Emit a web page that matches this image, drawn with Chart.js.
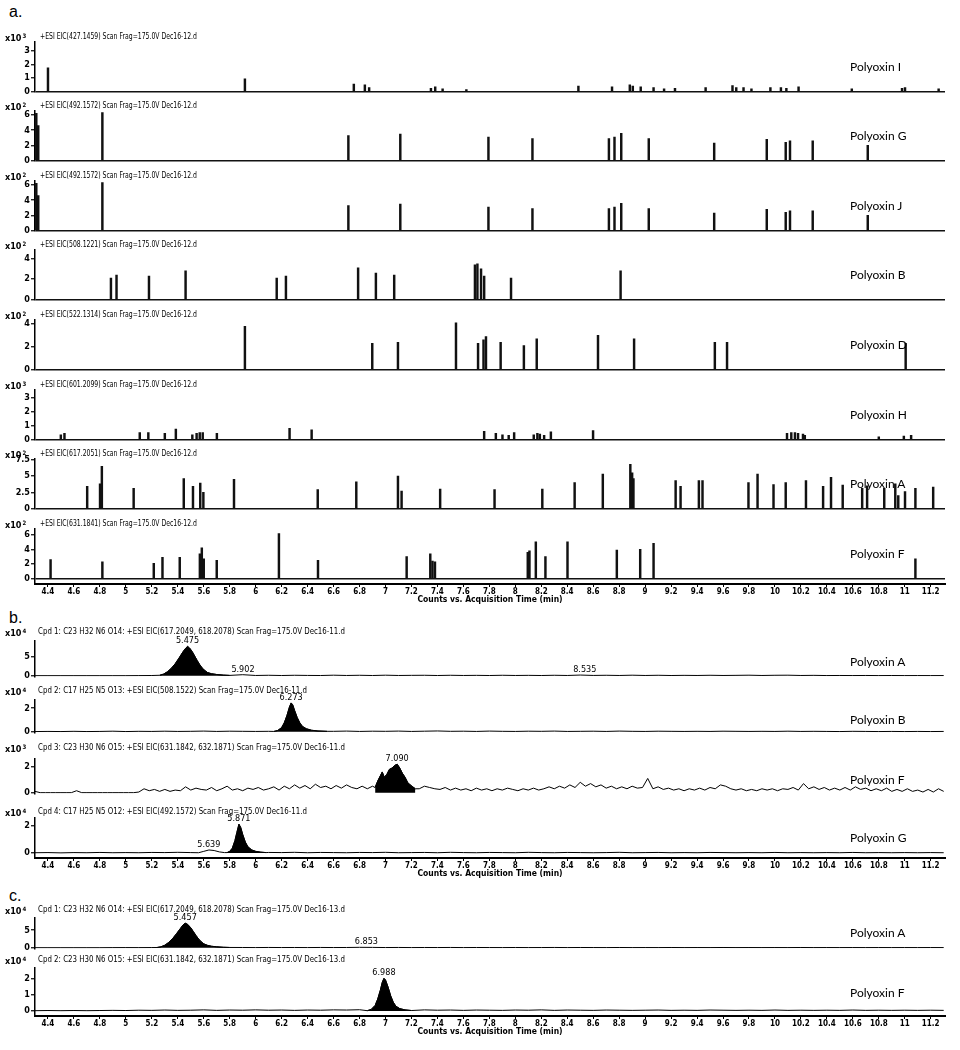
<!DOCTYPE html>
<html>
<head>
<meta charset="utf-8">
<script src="https://cdn.jsdelivr.net/npm/chart.js"></script>
<style>
  html, body { margin: 0; padding: 0; background: #fff; }
  body { position: relative; width: 960px; height: 1050px; overflow: hidden; }
  canvas { position: absolute; left: 0; }
  .txt { position: absolute; white-space: nowrap; color: #000; }
  .exp { font: bold 9px 'Liberation Sans Narrow', 'Arial Narrow', 'DejaVu Sans Condensed', sans-serif; line-height: 12px; }
  .exp sup { font-size: 6px; vertical-align: 3px; margin-left: 1px; }
  .hdr { font: 9px 'Liberation Sans Narrow', 'Arial Narrow', 'DejaVu Sans Condensed', sans-serif; line-height: 12px; transform-origin: 0 50%; }
  .name { font: 12px Lato, 'Open Sans', sans-serif; line-height: 14px; }
  .panel { font: 16px 'Liberation Sans', Arial, sans-serif; line-height: 18px; }
</style>
</head>
<body>
<script>
Chart.defaults.animation = false;
Chart.defaults.color = '#000';
const narrow = "'Liberation Sans Narrow', 'Arial Narrow', 'DejaVu Sans Condensed', sans-serif";

// acquisition time axis (min)
const xMin = 4.3, xMax = 11.31;
const timeTicks = [4.4, 4.6, 4.8, 5, 5.2, 5.4, 5.6, 5.8, 6, 6.2, 6.4, 6.6, 6.8, 7, 7.2, 7.4, 7.6, 7.8,
  8, 8.2, 8.4, 8.6, 8.8, 9, 9.2, 9.4, 9.6, 9.8, 10, 10.2, 10.4, 10.6, 10.8, 11, 11.2];

// ---- a. EIC peaks: retention time (min) / height ----
const rtI = [4.40, 5.917, 6.756, 6.841, 6.874, 7.350, 7.383, 7.440, 7.623, 8.486, 8.745, 8.882, 8.905, 8.966, 9.065,
  9.146, 9.230, 9.466, 9.673, 9.702, 9.758, 9.819, 9.965, 10.046, 10.088, 10.182, 10.592, 10.979, 11.002, 11.261];
const hI = [1.75, 0.95, 0.55, 0.5, 0.3, 0.25, 0.35, 0.2, 0.15, 0.4, 0.35, 0.5, 0.4, 0.35, 0.3,
  0.2, 0.25, 0.3, 0.45, 0.3, 0.3, 0.2, 0.3, 0.3, 0.25, 0.35, 0.2, 0.25, 0.3, 0.2];

const rtG = [4.31, 4.325, 4.819, 6.714, 7.114, 7.793, 8.132, 8.721, 8.764, 8.816, 9.028, 9.532, 9.937, 10.083, 10.116, 10.291, 10.715];
const hG = [6.2, 4.6, 6.3, 3.3, 3.5, 3.1, 2.9, 2.9, 3.1, 3.6, 2.9, 2.3, 2.8, 2.4, 2.6, 2.6, 2.0];

const rtJ = [4.31, 4.325, 4.819, 6.714, 7.114, 7.793, 8.132, 8.721, 8.764, 8.816, 9.028, 9.532, 9.937, 10.083, 10.116, 10.291, 10.715];
const hJ = [6.2, 4.6, 6.3, 3.3, 3.5, 3.1, 2.9, 2.9, 3.1, 3.6, 2.9, 2.3, 2.8, 2.4, 2.6, 2.6, 2.0];

const rtB = [4.885, 4.928, 5.178, 5.46, 6.162, 6.233, 6.789, 6.926, 7.067, 7.689, 7.708, 7.736, 7.76, 7.967, 8.811];
const hB = [2.1, 2.4, 2.3, 2.8, 2.1, 2.3, 3.1, 2.6, 2.4, 3.4, 3.5, 3.0, 2.3, 2.1, 2.8];

const rtD = [5.917, 6.898, 7.096, 7.543, 7.713, 7.755, 7.774, 7.887, 8.066, 8.165, 8.637, 8.915, 9.537, 9.631, 11.007];
const hD = [3.8, 2.3, 2.4, 4.1, 2.3, 2.6, 2.9, 2.4, 2.1, 2.7, 3.0, 2.7, 2.4, 2.4, 2.3];

const rtH = [4.499, 4.527, 5.107, 5.173, 5.3, 5.385, 5.512, 5.545, 5.569, 5.592, 5.701, 6.261, 6.431, 7.76, 7.85, 7.901, 7.949,
  7.991, 8.142, 8.17, 8.189, 8.222, 8.274, 8.599, 10.093, 10.126, 10.154, 10.178, 10.216, 10.23, 10.8, 10.993, 11.049];
const hH = [0.35, 0.45, 0.5, 0.5, 0.45, 0.75, 0.35, 0.45, 0.5, 0.5, 0.45, 0.8, 0.7, 0.6, 0.45, 0.35, 0.3,
  0.5, 0.35, 0.45, 0.4, 0.3, 0.55, 0.65, 0.45, 0.5, 0.5, 0.45, 0.4, 0.3, 0.2, 0.25, 0.3];

const rtA = [4.702, 4.801, 4.815, 5.06, 5.446, 5.517, 5.573, 5.597, 5.833, 6.478, 6.775, 7.096, 7.124, 7.421, 7.84, 8.208,
  8.457, 8.674, 8.886, 8.9, 8.91, 9.235, 9.273, 9.414, 9.442, 9.796, 9.866, 9.989, 10.083, 10.239, 10.371, 10.432,
  10.522, 10.672, 10.71, 10.842, 10.927, 10.95, 11.002, 11.082, 11.219];
const hA = [3.4, 3.8, 6.5, 3.1, 4.6, 3.4, 3.9, 2.5, 4.5, 2.9, 4.1, 5.0, 2.7, 3.0, 2.9, 3.0,
  4.0, 5.3, 6.8, 5.5, 4.6, 4.3, 3.4, 4.3, 4.3, 4.0, 5.3, 3.7, 4.0, 4.3, 3.4, 4.8,
  3.6, 3.1, 3.5, 3.1, 3.8, 2.0, 2.6, 3.1, 3.3];

const rtF = [4.42, 4.819, 5.215, 5.282, 5.415, 5.57, 5.585, 5.60, 5.70, 6.179, 6.48, 7.163, 7.345, 7.362, 7.381,
  8.096, 8.109, 8.158, 8.232, 8.402, 8.782, 8.962, 9.065, 11.082];
const hF = [2.6, 2.3, 2.1, 2.9, 2.9, 3.4, 4.2, 2.7, 2.5, 6.1, 2.5, 3.0, 3.4, 2.4, 2.3,
  3.6, 3.8, 5.0, 3.0, 5.0, 3.9, 4.0, 4.8, 2.7];

// ---- b./c. compound chromatograms ----
// baseline noise sampled from 4.3 min at a fixed step, peak profiles as (time, height)
const b1Noise = [0, 0, 0, 0, 0, 0, 0, 0, 0.02, 0.04, 0, 0, 0, 0, 0, 0, 0.25, 0.05, 0.1, 0.04,
  0.1, 0.06, 0.04, 0.12, 0.05, 0.1, 0.04, 0.12, 0.05, 0.08, 0.1, 0.04, 0.1, 0.05, 0.08, 0.04, 0.1, 0.05, 0.08, 0.04,
  0.1, 0.05, 0.16, 0.06, 0.1, 0.05, 0.12, 0.05, 0.1, 0.04, 0.08, 0.05, 0.1, 0.05, 0.08, 0.12, 0.05, 0.1, 0.12, 0.05,
  0.08, 0.03, 0.05, 0.03, 0.05, 0.02, 0.04, 0.02, 0.03, 0.02, 0.03];
const b1PeakRt = [5.26, 5.29, 5.32, 5.35, 5.38, 5.41, 5.44, 5.46, 5.475, 5.49, 5.51, 5.53, 5.55, 5.57, 5.59, 5.61, 5.63, 5.66, 5.70, 5.75, 5.80];
const b1PeakH = [0.1, 0.4, 1.0, 1.9, 3.1, 4.6, 6.2, 7.1, 7.6, 7.2, 6.3, 5.1, 3.9, 2.8, 1.9, 1.3, 0.8, 0.5, 0.3, 0.15, 0.07];
const b1LabelRt = [5.475, 5.902, 8.535];
const b1LabelH = [7.6, 0.25, 0.16];

const b2Noise = [0.01, 0.02, 0.01, 0.03, 0.01, 0.02, 0.04, 0.01, 0.03, 0.02, 0.04, 0.02, 0.03, 0.05, 0.02, 0.04, 0.03, 0.02, 0.03, 0.05,
  0, 0, 0, 0.03, 0.05, 0.02, 0.04, 0.03, 0.05, 0.02, 0.04, 0.06, 0.03, 0.04, 0.02, 0.05, 0.03, 0.02, 0.04, 0.03,
  0.05, 0.02, 0.03, 0.04, 0.02, 0.05, 0.03, 0.02, 0.04, 0.03, 0.02, 0.03, 0.02, 0.04, 0.03, 0.02, 0.03, 0.02, 0.04, 0.02,
  0.03, 0.02, 0.01, 0.03, 0.02, 0.01, 0.02, 0.01, 0.02, 0.01, 0.02];
const b2PeakRt = [6.14, 6.17, 6.20, 6.22, 6.24, 6.26, 6.273, 6.285, 6.30, 6.32, 6.34, 6.36, 6.39, 6.43, 6.48, 6.55];
const b2PeakH = [0.02, 0.1, 0.35, 0.75, 1.35, 2.1, 2.45, 2.3, 1.8, 1.2, 0.75, 0.45, 0.25, 0.12, 0.06, 0.03];
const b2LabelRt = [6.273];
const b2LabelH = [2.45];

const b3Noise = [0.1, 0, 0, 0, 0, 0, 0, 0, 0.15, 0,
  0, 0, 0, 0, 0, 0, 0, 0, 0, 0,
  0.05, 0.3, 0.15, 0.25, 0.1, 0.25, 0.1, 0.2, 0.15, 0.45,
  0.2, 0.35, 0.25, 0.2, 0.4, 0.15, 0.3, 0.5, 0.2, 0.3,
  0.15, 0.35, 0.25, 0.4, 0.2, 0.3, 0.45, 0.2, 0.5, 0.3,
  0.6, 0.35, 0.55, 0.3, 0.65, 0.4, 0.5, 0.3, 0.55, 0.35,
  0.6, 0.4, 0.3, 0.5, 0.3, 0.5, 0, 0, 0, 0,
  0, 0, 0, 0, 0.3, 0.5, 0.4, 0.3, 0.25, 0.4,
  0.2, 0.35, 0.2, 0.3, 0.15, 0.35, 0.2, 0.3, 0.15, 0.3,
  0.2, 0.35, 0.25, 0.15, 0.3, 0.2, 0.35, 0.2, 0.3, 0.45,
  0.3, 0.5, 0.35, 0.6, 0.4, 0.8, 0.5, 0.7, 0.45, 0.6,
  0.35, 0.5, 0.3, 0.45, 0.3, 0.5, 0.35, 0.4, 1.1, 0.3,
  0.45, 0.25, 0.35, 0.2, 0.3, 0.15, 0.3, 0.2, 0.35, 0.2,
  0.4, 0.3, 0.6, 0.5, 0.3, 0.2, 0.3, 0.15, 0.25, 0.15,
  0.3, 0.2, 0.3, 0.15, 0.3, 0.25, 0.4, 0.2, 0.7, 0.3,
  0.45, 0.25, 0.4, 0.2, 0.35, 0.2, 0.4, 0.2, 0.45, 0.25,
  0.35, 0.15, 0.3, 0.15, 0.35, 0.1, 0.25, 0.1, 0.3, 0.1,
  0.2, 0.05, 0.25, 0.05, 0.3, 0.1];
const b3PeakRt = [6.92, 6.94, 6.96, 6.975, 6.99, 7.01, 7.03, 7.05, 7.07, 7.09, 7.11, 7.13, 7.15, 7.17, 7.19, 7.21, 7.23];
const b3PeakH = [0.4, 0.9, 1.3, 1.6, 1.2, 1.4, 1.8, 1.9, 2.1, 2.2, 1.9, 1.5, 1.2, 0.8, 0.6, 0.45, 0.3];
const b3LabelRt = [7.09];
const b3LabelH = [2.2];

const b4Noise = [0.02, 0.03, 0.01, 0.03, 0.02, 0.04, 0.02, 0.03, 0.02, 0.04, 0.03, 0.05, 0.03, 0, 0, 0, 0, 0, 0.04, 0.03,
  0.05, 0.02, 0.04, 0.03, 0.02, 0.04, 0.03, 0.05, 0.02, 0.03, 0.04, 0.02, 0.05, 0.03, 0.02, 0.04, 0.03, 0.02, 0.05, 0.03,
  0.02, 0.04, 0.03, 0.02, 0.03, 0.05, 0.02, 0.03, 0.04, 0.02, 0.03, 0.02, 0.04, 0.03, 0.02, 0.03, 0.02, 0.04, 0.02, 0.03,
  0.02, 0.03, 0.02, 0.04, 0.02, 0.03, 0.02, 0.03, 0.02, 0.03, 0.02];
const b4HumpRt = [5.56, 5.60, 5.64, 5.68, 5.72, 5.76];
const b4HumpH = [0.02, 0.12, 0.22, 0.18, 0.08, 0.03];
const b4PeakRt = [5.78, 5.80, 5.82, 5.84, 5.855, 5.871, 5.885, 5.90, 5.92, 5.94, 5.97, 6.00, 6.04, 6.08];
const b4PeakH = [0.03, 0.12, 0.35, 0.9, 1.5, 2.1, 1.85, 1.35, 0.8, 0.45, 0.22, 0.12, 0.06, 0.03];
const b4LabelRt = [5.639, 5.871];
const b4LabelH = [0.22, 2.1];

const c1Noise = [0, 0, 0, 0, 0, 0, 0.02, 0.03, 0.02, 0.04, 0, 0, 0, 0, 0, 0, 0.05, 0.03, 0.06, 0.04,
  0.05, 0.03, 0.06, 0.04, 0.05, 0.1, 0.08, 0.04, 0.06, 0.03, 0.05, 0.04, 0.06, 0.03, 0.05, 0.04, 0.03, 0.05, 0.03, 0.04,
  0.06, 0.03, 0.05, 0.04, 0.03, 0.05, 0.03, 0.04, 0.03, 0.05, 0.03, 0.04, 0.03, 0.05, 0.03, 0.04, 0.03, 0.04, 0.03, 0.05,
  0.03, 0.04, 0.03, 0.04, 0.03, 0.04, 0.03, 0.04, 0.03, 0.04, 0.03];
const c1PeakRt = [5.24, 5.27, 5.30, 5.33, 5.36, 5.39, 5.42, 5.44, 5.457, 5.475, 5.50, 5.52, 5.54, 5.56, 5.58, 5.60, 5.63, 5.66, 5.70, 5.75, 5.80];
const c1PeakH = [0.05, 0.25, 0.7, 1.5, 2.6, 4.0, 5.5, 6.5, 7.0, 6.7, 5.7, 4.6, 3.5, 2.5, 1.7, 1.1, 0.65, 0.4, 0.25, 0.12, 0.06];
const c1LabelRt = [5.457, 6.853];
const c1LabelH = [7.0, 0.1];

const c2Noise = [0.02, 0.03, 0.02, 0.03, 0.02, 0.03, 0.04, 0.03, 0.05, 0.04, 0.06, 0.04, 0.05, 0.07, 0.04, 0.06, 0.05, 0.07, 0.05, 0.06,
  0.04, 0.06, 0.05, 0.07, 0.06, 0.08, 0, 0, 0, 0, 0.07, 0.05, 0.06, 0.04, 0.06, 0.05, 0.04, 0.06, 0.05, 0.07,
  0.04, 0.06, 0.05, 0.04, 0.06, 0.05, 0.04, 0.05, 0.06, 0.04, 0.05, 0.04, 0.06, 0.05, 0.04, 0.05, 0.04, 0.06, 0.04, 0.05,
  0.04, 0.05, 0.04, 0.06, 0.04, 0.05, 0.04, 0.05, 0.04, 0.05, 0.04];
const c2PeakRt = [6.86, 6.89, 6.92, 6.94, 6.96, 6.975, 6.988, 7.00, 7.02, 7.04, 7.06, 7.08, 7.11, 7.15, 7.20];
const c2PeakH = [0.02, 0.1, 0.35, 0.75, 1.3, 1.8, 2.05, 1.95, 1.5, 0.95, 0.55, 0.3, 0.15, 0.07, 0.03];
const c2LabelRt = [6.988];
const c2LabelH = [2.05];

// ---------------------------------------------------------------
function text(cls, html, left, cy, lh) {
  const d = document.createElement('div');
  d.className = 'txt ' + cls;
  d.innerHTML = html;
  d.style.left = left + 'px';
  d.style.top = (cy - lh / 2) + 'px';
  document.body.appendChild(d);
  return d;
}

const hdrA = [], hdrBC = [];
function header(list, exp, str, left, cy) {
  text('exp', 'x10<sup>' + exp + '</sup>', 5, cy, 12);
  list.push(text('hdr', str, left, cy, 12));
}

function canvasFor(top, height) {
  const c = document.createElement('canvas');
  c.width = 960;
  c.height = height;
  c.style.top = top + 'px';
  c.style.width = '960px';
  c.style.height = height + 'px';
  document.body.appendChild(c);
  return c;
}

// retention time labels over the integrated peaks
const peakLabels = {
  id: 'peakLabels',
  afterDatasetsDraw(chart, args, opts) {
    if (!opts.rt) return;
    const { ctx, scales: { x, y } } = chart;
    ctx.save();
    ctx.font = '9px ' + narrow;
    ctx.fillStyle = '#000';
    ctx.textAlign = 'center';
    ctx.textBaseline = 'bottom';
    opts.rt.forEach((t, i) => ctx.fillText(t.toFixed(3), x.getPixelForValue(t), y.getPixelForValue(opts.h[i]) - 1));
    ctx.restore();
  }
};

function xAxis(show) {
  return {
    type: 'linear', min: xMin, max: xMax, offset: false, display: show,
    afterBuildTicks: s => { s.ticks = timeTicks.map(v => ({ value: v })); },
    afterFit: s => { if (show) s.height = 21; },
    border: { display: true, color: '#000', width: 2 },
    grid: { offset: false, drawOnChartArea: false, drawTicks: true, tickLength: 3, tickColor: '#000', tickWidth: 1 },
    ticks: {
      autoSkip: false, maxRotation: 0, padding: 0, color: '#000',
      font: { family: narrow, size: 8, weight: 'bold' },
      callback: v => String(Math.round(v * 10) / 10)
    },
    title: { display: true, text: 'Counts vs. Acquisition Time (min)', color: '#000', padding: 0,
      font: { family: narrow, size: 8.5, weight: 'bold' } }
  };
}

function yAxis(max, min, ticks, zeroLine) {
  return {
    min, max,
    afterBuildTicks: s => { s.ticks = ticks.map(v => ({ value: v })); },
    afterFit: s => { s.width = 35; },
    border: { display: true, color: '#000', width: 1.5 },
    grid: {
      drawOnChartArea: zeroLine, drawTicks: true, tickLength: 4, tickWidth: 1.2, tickColor: '#000', lineWidth: 1.5,
      color: c => (c.tick && c.tick.value === 0) ? '#111' : 'rgba(0,0,0,0)'
    },
    ticks: { padding: 1, color: '#000', font: { family: narrow, size: 9, weight: 'bold' }, callback: v => String(v) }
  };
}

function buildTrace(noise, step, segs) {
  const pts = [];
  noise.forEach((v, i) => {
    const t = Math.round((xMin + i * step) * 1000) / 1000;
    const inside = segs.some(s => t >= s.rt[0] - 1e-6 && t <= s.rt[s.rt.length - 1] + 1e-6);
    if (!inside && t <= xMax) pts.push({ x: t, y: v });
  });
  segs.forEach(s => s.rt.forEach((t, i) => pts.push({ x: t, y: s.h[i] })));
  return pts.sort((a, b) => a.x - b.x);
}

// ---- panel a ----
const peakRows = [
  { name: 'Polyoxin I', exp: 3, eic: '427.1459', rt: rtI, h: hI, max: 3.7, ticks: [0, 1, 2, 3], base: 92 },
  { name: 'Polyoxin G', exp: 2, eic: '492.1572', rt: rtG, h: hG, max: 6.6, ticks: [0, 2, 4, 6], base: 161 },
  { name: 'Polyoxin J', exp: 2, eic: '492.1572', rt: rtJ, h: hJ, max: 6.6, ticks: [0, 2, 4, 6], base: 231 },
  { name: 'Polyoxin B', exp: 2, eic: '508.1221', rt: rtB, h: hB, max: 4.9, ticks: [0, 2, 4], base: 300 },
  { name: 'Polyoxin D', exp: 2, eic: '522.1314', rt: rtD, h: hD, max: 4.4, ticks: [0, 2, 4], base: 370 },
  { name: 'Polyoxin H', exp: 3, eic: '601.2099', rt: rtH, h: hH, max: 3.6, ticks: [0, 1, 2, 3], base: 440 },
  { name: 'Polyoxin A', exp: 2, eic: '617.2051', rt: rtA, h: hA, max: 7.7, ticks: [0, 2.5, 5, 7.5], base: 509 },
  { name: 'Polyoxin F', exp: 2, eic: '631.1841', rt: rtF, h: hF, max: 6.8, ticks: [0, 2, 4, 6], base: 579, axis: true }
];

text('panel', 'a.', 9, 12, 18);
peakRows.forEach(r => {
  const plotH = 51, top = r.base - plotH, gap = r.axis ? 5 : 0;
  const padT = 6, padB = r.axis ? 0 : 6, axisH = r.axis ? 21 : 0;
  const cv = canvasFor(top - padT, plotH + gap + padT + padB + axisH);
  new Chart(cv, {
    type: 'bar',
    data: { datasets: [{ data: r.rt.map((t, i) => ({ x: t, y: r.h[i] })), backgroundColor: '#111', borderWidth: 0, barThickness: 1.8 }] },
    options: {
      responsive: false, events: [],
      layout: { padding: { top: padT, bottom: padB, left: 0, right: 15 } },
      plugins: { legend: { display: false }, tooltip: { enabled: false } },
      scales: { x: xAxis(!!r.axis), y: yAxis(r.max, -gap * r.max / plotH, r.ticks, true) }
    }
  });
  header(hdrA, r.exp, '+ESI EIC(' + r.eic + ') Scan Frag=175.0V Dec16-12.d', 40, r.base - 56);
  text('name', r.name, 850, r.base - 25, 14);
});

// ---- panels b and c ----
const traceRows = [
  { name: 'Polyoxin A', exp: 4, hdr: 'Cpd 1: C23 H32 N6 O14: +ESI EIC(617.2049, 618.2078) Scan Frag=175.0V Dec16-11.d',
    hdrY: 631, top: 641, base: 678, max: 9, ticks: [0, 5], noise: b1Noise, step: 0.1,
    segs: [{ rt: b1PeakRt, h: b1PeakH, fill: true }], labelRt: b1LabelRt, labelH: b1LabelH, nameY: 662 },
  { name: 'Polyoxin B', exp: 4, hdr: 'Cpd 2: C17 H25 N5 O13: +ESI EIC(508.1522) Scan Frag=175.0V Dec16-11.d',
    hdrY: 690, top: 700, base: 734, max: 2.7, ticks: [0, 2], noise: b2Noise, step: 0.1,
    segs: [{ rt: b2PeakRt, h: b2PeakH, fill: true }], labelRt: b2LabelRt, labelH: b2LabelH, nameY: 720 },
  { name: 'Polyoxin F', exp: 3, hdr: 'Cpd 3: C23 H30 N6 O15: +ESI EIC(631.1842, 632.1871) Scan Frag=175.0V Dec16-11.d',
    hdrY: 747, top: 759, base: 795, max: 2.6, ticks: [0, 2], noise: b3Noise, step: 0.04,
    segs: [{ rt: b3PeakRt, h: b3PeakH, fill: true }], labelRt: b3LabelRt, labelH: b3LabelH, nameY: 780 },
  { name: 'Polyoxin G', exp: 4, hdr: 'Cpd 4: C17 H25 N5 O12: +ESI EIC(492.1572) Scan Frag=175.0V Dec16-11.d',
    hdrY: 811, top: 818, base: 853, max: 2.55, ticks: [0, 2], noise: b4Noise, step: 0.1, axis: true,
    segs: [{ rt: b4HumpRt, h: b4HumpH, fill: false }, { rt: b4PeakRt, h: b4PeakH, fill: true }],
    labelRt: b4LabelRt, labelH: b4LabelH, nameY: 838 },
  { name: 'Polyoxin A', exp: 4, hdr: 'Cpd 1: C23 H32 N6 O14: +ESI EIC(617.2049, 618.2078) Scan Frag=175.0V Dec16-13.d',
    hdrY: 909, top: 918, base: 950, max: 8.5, ticks: [0, 5], noise: c1Noise, step: 0.1,
    segs: [{ rt: c1PeakRt, h: c1PeakH, fill: true }], labelRt: c1LabelRt, labelH: c1LabelH, nameY: 933 },
  { name: 'Polyoxin F', exp: 4, hdr: 'Cpd 2: C23 H30 N6 O15: +ESI EIC(631.1842, 632.1871) Scan Frag=175.0V Dec16-13.d',
    hdrY: 959, top: 968, base: 1011, max: 2.7, ticks: [0, 1, 2], noise: c2Noise, step: 0.1, axis: true,
    segs: [{ rt: c2PeakRt, h: c2PeakH, fill: true }], labelRt: c2LabelRt, labelH: c2LabelH, nameY: 993 }
];

text('panel', 'b.', 9, 618, 18);
text('panel', 'c.', 9, 896, 18);
traceRows.forEach(r => {
  const plotH = r.base - r.top, gap = r.axis ? 5 : 1;
  const padT = 10, padB = r.axis ? 0 : 4, axisH = r.axis ? 21 : 0;
  const cv = canvasFor(r.top - padT, plotH + gap + padT + padB + axisH);
  const datasets = r.segs.filter(s => s.fill).map(s => ({
    data: s.rt.map((t, i) => ({ x: t, y: s.h[i] })),
    fill: 'origin', backgroundColor: '#000', borderColor: '#000', borderWidth: 1, pointRadius: 0
  }));
  datasets.push({ data: buildTrace(r.noise, r.step, r.segs), fill: false, borderColor: '#000', borderWidth: 1, pointRadius: 0 });
  new Chart(cv, {
    type: 'line',
    data: { datasets },
    options: {
      responsive: false, events: [],
      layout: { padding: { top: padT, bottom: padB, left: 0, right: 15 } },
      plugins: { legend: { display: false }, tooltip: { enabled: false }, peakLabels: { rt: r.labelRt, h: r.labelH } },
      scales: { x: xAxis(!!r.axis), y: yAxis(r.max, -gap * r.max / plotH, r.ticks, false) }
    },
    plugins: [peakLabels]
  });
  header(hdrBC, r.exp, r.hdr, 38, r.hdrY);
  text('name', r.name, 850, r.nameY, 14);
});

// squeeze the instrument headers to the condensed width of the original
function squeeze(list, target) {
  const k = target / list[0].getBoundingClientRect().width;
  list.forEach(s => { s.style.transform = 'scaleX(' + k.toFixed(3) + ')'; });
}
squeeze(hdrA, 157);
squeeze(hdrBC, 307);
</script>
</body>
</html>
